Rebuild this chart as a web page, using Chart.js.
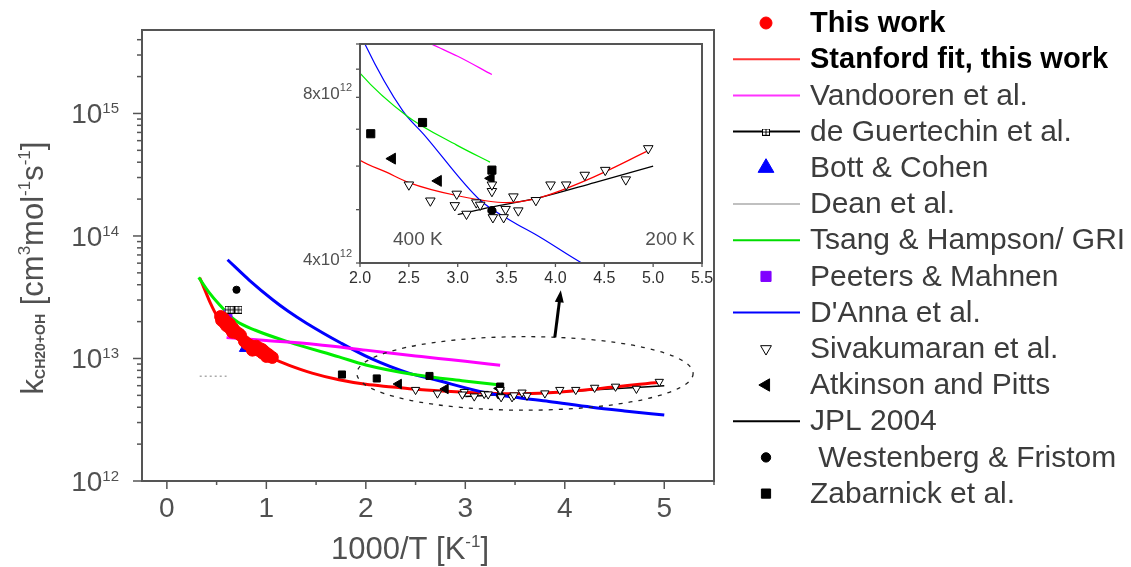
<!DOCTYPE html>
<html>
<head>
<meta charset="utf-8">
<script src="https://cdn.jsdelivr.net/npm/chart.js@4.4.1/dist/chart.umd.min.js"></script>
<style>
html, body { margin: 0; padding: 0; background: #fff; }
#wrap { position: relative; width: 1131px; height: 567px; }
#main { position: absolute; left: 0; top: 0; }
#inset { position: absolute; left: 290px; top: 30px; }
</style>
</head>
<body>
<div id="wrap">
  <canvas id="main" width="1131" height="567"></canvas>
  <canvas id="inset" width="430" height="262"></canvas>
</div>
<script>
// x = 1000/T [1/K], k in cm3 mol-1 s-1
const thisWork = [[0.54,2.2e13],[0.55,2.05e13],[0.57,2.12e13],[0.58,1.95e13],[0.6,1.98e13],[0.6,1.85e13],[0.62,1.82e13],
  [0.63,1.92e13],[0.64,1.74e13],[0.66,1.78e13],[0.66,1.64e13],[0.68,1.7e13],[0.7,1.62e13],[0.72,1.6e13],[0.74,1.55e13],
  [0.78,1.38e13],[0.8,1.33e13],[0.82,1.3e13],[0.84,1.27e13],[0.86,1.24e13],[0.86,1.17e13],[0.88,1.22e13],
  [0.9,1.26e13],[0.9,1.18e13],[0.92,1.17e13],[0.94,1.2e13],[0.96,1.18e13],[0.96,1.11e13],[0.98,1.14e13],
  [1.0,1.1e13],[1.0,1.04e13],[1.02,1.08e13],[1.04,1.04e13],[1.06,1.02e13]];
const stanfordFit = [[0.33,4.56e13],[0.39,3.5e13],[0.44,2.8e13],[0.51,2.18e13],[0.6,1.8e13],[0.72,1.52e13],[0.79,1.36e13],
  [0.9,1.16e13],[1.06,1.0e13],[1.23,8.8e12],[1.46,7.6e12],[1.73,6.7e12],[2.0,6.15e12],[2.27,5.85e12],[2.5,5.6e12],
  [3.0,5.3e12],[3.5,5.15e12],[3.84,5.26e12],[4.36,5.7e12],[4.95,6.4e12]];
const vandooren = [[0.6,1.48e13],[1.0,1.4e13],[1.5,1.3e13],[2.0,1.17e13],[2.5,1.05e13],[2.73,1.0e13],[3.0,9.5e12],[3.35,8.8e12]];
const deGuertechin = [[0.62,2.5e13],[0.67,2.5e13],[0.72,2.5e13]];
const bottCohen = [[0.79,1.22e13]];
const dean = [[0.33,7.15e12],[0.6,7.15e12]];
const tsangHampson = [[0.32,4.6e13],[0.42,3.5e13],[0.52,2.8e13],[0.69,2.04e13],[0.89,1.7e13],[1.23,1.36e13],[1.73,1.03e13],
  [2.0,8.85e12],[2.48,7.4e12],[2.99,6.55e12],[3.33,6.1e12]];
const peetersMahnen = [[0.615,2.32e13]];
const dAnna = [[0.61,6.4e13],[0.83,4.35e13],[1.07,2.99e13],[1.22,2.43e13],[1.4,1.95e13],[1.74,1.35e13],[2.05,1.0e13],
  [2.44,7.55e12],[2.65,6.86e12],[3.23,5.2e12],[3.54,4.78e12],[3.84,4.46e12],[4.27,4.0e12],[4.6,3.73e12],[5.0,3.45e12]];
const sivakumaran = [[2.5,5.55e12],[2.72,5.19e12],[2.99,5.34e12],[2.97,5.09e12],[3.09,4.91e12],[3.19,5.15e12],[3.23,5.1e12],
  [3.35,5.4e12],[3.35,5.55e12],[3.36,4.84e12],[3.47,4.84e12],[3.49,5.01e12],[3.57,5.28e12],[3.62,4.98e12],[3.8,5.2e12],
  [3.95,5.55e12],[4.11,5.55e12],[4.3,5.78e12],[4.51,5.9e12],[4.72,5.67e12],[4.95,6.46e12]];
const atkinsonPitts = [[2.33,6.19e12],[2.8,5.64e12],[3.34,5.7e12]];
const jpl2004 = [[3.0,4.9e12],[3.33,5.05e12],[3.84,5.26e12],[4.4,5.6e12],[5.0,6.0e12]];
const westenberg = [[0.7,3.64e13],[3.35,4.98e12]];
const zabarnick = [[1.76,7.4e12],[2.11,6.87e12],[2.64,7.2e12],[3.35,5.9e12]];

const legendLabels = ['This work', 'Stanford fit, this work', 'Vandooren et al.', 'de Guertechin et al.', 'Bott & Cohen',
  'Dean et al.', 'Tsang & Hampson/ GRI', 'Peeters & Mahnen', "D'Anna et al.", 'Sivakumaran et al.',
  'Atkinson and Pitts', 'JPL 2004', ' Westenberg & Fristom', 'Zabarnick et al.'];
const mainXTicks = [0, 1, 2, 3, 4, 5];
const mainYDecades = [12, 13, 14, 15];
const insetXTicks = [2.0, 2.5, 3.0, 3.5, 4.0, 4.5, 5.0, 5.5];
const insetYLabels = [[4, 12], [8, 12]];
const insetYTicks = [4e12, 5e12, 6e12, 7e12, 8e12, 9e12, 1e13];

const AXIS = '#555555';
const TXT = '#3c3c3c';
const FONT = "'Liberation Sans', Arial, sans-serif";

function plusBox(size) {
    const c = document.createElement('canvas');
    c.width = size; c.height = size;
    const g = c.getContext('2d');
    g.fillStyle = '#fff';
    g.fillRect(0, 0, size, size);
    g.strokeStyle = '#000';
    g.lineWidth = 1;
    g.strokeRect(0.5, 0.5, size - 1, size - 1);
    g.beginPath();
    g.moveTo(size / 2, 0); g.lineTo(size / 2, size);
    g.moveTo(0, size / 2); g.lineTo(size, size / 2);
    g.stroke();
    return c;
}

// kind: line or point; r = marker radius on the main plot
const series = [
    { data: thisWork, kind: 'point', style: 'circle', fill: '#ff0000', stroke: '#ff0000', r: 6 },
    { data: stanfordFit, kind: 'line', color: '#ff0000', legendColor: '#ff3333' },
    { data: vandooren, kind: 'line', color: '#ff00ff', legendColor: '#ff33ff' },
    { data: deGuertechin, kind: 'point', style: 'box', r: 4, legendLine: '#000' },
    { data: bottCohen, kind: 'point', style: 'triangle', fill: '#0000ff', stroke: '#0000ff', r: 7 },
    { data: dean, kind: 'line', color: '#aaaaaa', dash: [2, 3], width: 1.5, legendColor: '#c0c0c0' },
    { data: tsangHampson, kind: 'line', color: '#00ee00', legendColor: '#00dd00' },
    { data: peetersMahnen, kind: 'point', style: 'rect', fill: '#8000ff', stroke: '#8000ff', r: 5.5 },
    { data: dAnna, kind: 'line', color: '#0000ff', legendColor: '#0000ff' },
    { data: sivakumaran, kind: 'point', style: 'triangle', rot: 180, fill: '#ffffff', stroke: '#000', r: 4.8 },
    { data: atkinsonPitts, kind: 'point', style: 'triangle', rot: -90, fill: '#000', stroke: '#000', r: 5.5 },
    { data: jpl2004, kind: 'line', color: '#000000', width: 1.5, legendColor: '#000' },
    { data: westenberg, kind: 'point', style: 'circle', fill: '#000', stroke: '#000', r: 3.6 },
    { data: zabarnick, kind: 'point', style: 'rect', fill: '#000', stroke: '#000', r: 5 }
];

// draw order of the lines (last = on top)
const lineOrder = { 1: 1, 8: 2, 6: 3, 2: 4, 5: 5, 11: 0 };

function buildSets(inset) {
    return series.map((s, i) => {
        const pts = s.data.map(p => ({ x: p[0], y: p[1] }));
        if (s.kind === 'line') {
            return {
                label: legendLabels[i], data: pts, showLine: true, pointRadius: 0,
                borderColor: s.color, borderWidth: inset ? 1.2 : (s.width || 3),
                borderDash: s.dash || [], cubicInterpolationMode: 'monotone', fill: false,
                order: 10 - lineOrder[i]
            };
        }
        const r = inset ? s.r * 1.15 : s.r;
        const style = s.style === 'box' ? plusBox(inset ? 9 : 8) : s.style;
        return {
            label: legendLabels[i], data: pts, showLine: false, pointStyle: style,
            pointRadius: r, pointRotation: s.rot || 0,
            pointBackgroundColor: s.fill, pointBorderColor: s.stroke, pointBorderWidth: 1,
            order: 0
        };
    });
}

function drawRich(ctx, parts, x, y, align, color) {
    ctx.save();
    ctx.fillStyle = color;
    ctx.textBaseline = 'alphabetic';
    ctx.textAlign = 'left';
    let w = 0;
    parts.forEach(p => { ctx.font = p.f; w += ctx.measureText(p.t).width; });
    let cx = align === 'right' ? x - w : align === 'center' ? x - w / 2 : x;
    parts.forEach(p => {
        ctx.font = p.f;
        ctx.fillText(p.t, cx, y + (p.dy || 0));
        cx += ctx.measureText(p.t).width;
    });
    ctx.restore();
}

function tick(ctx, x1, y1, x2, y2) {
    ctx.beginPath(); ctx.moveTo(x1, y1); ctx.lineTo(x2, y2); ctx.stroke();
}

function symbol(ctx, s, x, y) {
    ctx.save();
    if (s.kind === 'line' || s.legendLine) {
        ctx.strokeStyle = s.legendColor || s.legendLine;
        ctx.lineWidth = 2;
        tick(ctx, 733, y, 800, y);
    }
    if (s.kind === 'point') {
        if (s.style === 'box') {
            ctx.drawImage(plusBox(8), x - 4, y - 3, 8, 7);
        } else {
            ctx.fillStyle = s.fill;
            ctx.strokeStyle = s.stroke;
            ctx.lineWidth = 1;
            const rr = s === series[0] ? 6 : s.r * 1.3;
            Chart.helpers.drawPoint(ctx, { pointStyle: s.style, radius: rr, rotation: s.rot || 0, borderWidth: 1 }, x, y);
        }
    }
    ctx.restore();
}

// dashed ellipse round the low temperature data, and arrow to the inset
const ellipseCenter = [3.6, 7.55e12];
const ellipseRx = 1.69;
const ellipseRyDecades = 0.3;
const arrowFromX = 3.9;
const arrowTip = [3.96, 3.6e13];

const mainDecor = {
    id: 'mainDecor',
    afterDatasetsDraw(chart) {
        const { ctx, scales: { x, y } } = chart;
        const cx = x.getPixelForValue(ellipseCenter[0]);
        const cy = y.getPixelForValue(ellipseCenter[1]);
        const rx = x.getPixelForValue(ellipseCenter[0] + ellipseRx) - cx;
        const ry = cy - y.getPixelForValue(ellipseCenter[1] * Math.pow(10, ellipseRyDecades));
        ctx.save();
        ctx.strokeStyle = '#222';
        ctx.lineWidth = 1.3;
        ctx.setLineDash([4, 6]);
        ctx.beginPath();
        ctx.ellipse(cx, cy, rx, ry, 0, 0, Math.PI * 2);
        ctx.stroke();
        ctx.setLineDash([]);
        const ax = x.getPixelForValue(arrowFromX);
        const ay = cy - ry * Math.sqrt(1 - Math.pow((ax - cx) / rx, 2));
        const tx = x.getPixelForValue(arrowTip[0]);
        const ty = y.getPixelForValue(arrowTip[1]);
        const ang = Math.atan2(ty - ay, tx - ax);
        ctx.strokeStyle = '#000';
        ctx.fillStyle = '#000';
        ctx.lineWidth = 3;
        tick(ctx, ax, ay, tx - 9 * Math.cos(ang), ty - 9 * Math.sin(ang));
        ctx.beginPath();
        ctx.moveTo(tx, ty);
        ctx.lineTo(tx - 12 * Math.cos(ang) + 4.5 * Math.sin(ang), ty - 12 * Math.sin(ang) - 4.5 * Math.cos(ang));
        ctx.lineTo(tx - 12 * Math.cos(ang) - 4.5 * Math.sin(ang), ty - 12 * Math.sin(ang) + 4.5 * Math.cos(ang));
        ctx.closePath();
        ctx.fill();
        ctx.restore();
    },
    afterDraw(chart) {
        const { ctx, chartArea: a, scales: { x, y } } = chart;
        ctx.save();
        ctx.strokeStyle = AXIS;
        ctx.lineWidth = 2;
        ctx.strokeRect(a.left, a.top, a.right - a.left, a.bottom - a.top);
        ctx.lineWidth = 1.5;
        // y axis: log ticks
        mainYDecades.forEach(e => {
            for (let m = 1; m < 10; m++) {
                const v = m * Math.pow(10, e);
                if (v > y.max) break;
                const py = y.getPixelForValue(v);
                tick(ctx, a.left - (m === 1 ? 9 : 5), py, a.left, py);
            }
            const py = y.getPixelForValue(Math.pow(10, e));
            drawRich(ctx, [{ t: '10', f: '28px ' + FONT }, { t: String(e), f: '15px ' + FONT, dy: -10 }], 119, py + 10, 'right', '#505050');
        });
        // x axis
        for (let v = 0; v <= x.max + 1e-9; v += 0.5) {
            const px = x.getPixelForValue(v);
            tick(ctx, px, a.bottom, px, a.bottom + (Number.isInteger(v) ? 8 : 4));
        }
        mainXTicks.forEach(v => {
            drawRich(ctx, [{ t: String(v), f: '28px ' + FONT }], x.getPixelForValue(v), 517, 'center', '#505050');
        });
        // axis titles
        drawRich(ctx, [{ t: '1000/T [K', f: '31px ' + FONT }, { t: '-1', f: '17px ' + FONT, dy: -12 }, { t: ']', f: '31px ' + FONT }],
            410, 559, 'center', '#505050');
        ctx.translate(43, 268);
        ctx.rotate(-Math.PI / 2);
        drawRich(ctx, [
            { t: 'k', f: '31px ' + FONT },
            { t: 'CH20+OH', f: 'bold 14px ' + FONT, dy: 2 },
            { t: ' [cm', f: '31px ' + FONT },
            { t: '3', f: '17px ' + FONT, dy: -13 },
            { t: 'mol', f: '31px ' + FONT },
            { t: '-1', f: '17px ' + FONT, dy: -13 },
            { t: 's', f: '31px ' + FONT },
            { t: '-1', f: '17px ' + FONT, dy: -13 },
            { t: ']', f: '31px ' + FONT }
        ], 0, 0, 'center', '#505050');
        ctx.restore();
        // legend
        ctx.save();
        series.forEach((s, i) => {
            const yy = 23 + i * 36.2;
            symbol(ctx, s, 766, yy);
            ctx.font = (i < 2 ? 'bold 29px ' : '30px ') + FONT;
            ctx.fillStyle = i < 2 ? '#000' : TXT;
            ctx.textBaseline = 'middle';
            ctx.textAlign = 'left';
            ctx.fillText(legendLabels[i], 810, yy + 1);
        });
        ctx.restore();
    }
};

const insetDecor = {
    id: 'insetDecor',
    beforeDatasetsDraw(chart) {
        const { ctx, chartArea: a } = chart;
        ctx.save();
        ctx.fillStyle = '#fff';
        ctx.fillRect(a.left, a.top, a.right - a.left, a.bottom - a.top);
        ctx.restore();
    },
    afterDraw(chart) {
        const { ctx, chartArea: a, scales: { x, y } } = chart;
        ctx.save();
        ctx.strokeStyle = AXIS;
        ctx.lineWidth = 2;
        ctx.strokeRect(a.left, a.top, a.right - a.left, a.bottom - a.top);
        ctx.lineWidth = 1.3;
        insetYTicks.forEach(v => {
            const py = y.getPixelForValue(v);
            tick(ctx, a.left - 4, py, a.left, py);
        });
        insetYLabels.forEach(([m, e]) => {
            const py = y.getPixelForValue(m * Math.pow(10, e));
            drawRich(ctx, [{ t: m + 'x10', f: '17px ' + FONT }, { t: String(e), f: '11px ' + FONT, dy: -8 }], a.left - 8, py + 2, 'right', '#505050');
        });
        insetXTicks.forEach(v => {
            const px = x.getPixelForValue(v);
            tick(ctx, px, a.bottom, px, a.bottom + 4);
            drawRich(ctx, [{ t: v.toFixed(1), f: '16px ' + FONT }], px, a.bottom + 20, 'center', '#303030');
        });
        drawRich(ctx, [{ t: '400 K', f: '19px ' + FONT }], a.left + 33, a.bottom - 18, 'left', '#505050');
        drawRich(ctx, [{ t: '200 K', f: '19px ' + FONT }], a.right - 7, a.bottom - 18, 'right', '#505050');
        ctx.restore();
    }
};

function baseOptions(padding, xr, yr) {
    return {
        responsive: false, animation: false, events: [],
        layout: { padding: padding },
        plugins: { legend: { display: false }, tooltip: { enabled: false } },
        scales: {
            x: { type: 'linear', min: xr[0], max: xr[1], display: false },
            y: { type: 'logarithmic', min: yr[0], max: yr[1], display: false }
        }
    };
}

new Chart(document.getElementById('main'), {
    type: 'scatter',
    data: { datasets: buildSets(false) },
    options: baseOptions({ left: 142, top: 30, right: 417, bottom: 86 }, [-0.25, 5.5], [1e12, 4.8e15]),
    plugins: [mainDecor]
});

new Chart(document.getElementById('inset'), {
    type: 'scatter',
    data: { datasets: buildSets(true) },
    options: baseOptions({ left: 70, top: 14, right: 18, bottom: 29 }, [2.0, 5.5], [4e12, 1e13]),
    plugins: [insetDecor]
});
</script>
</body>
</html>
